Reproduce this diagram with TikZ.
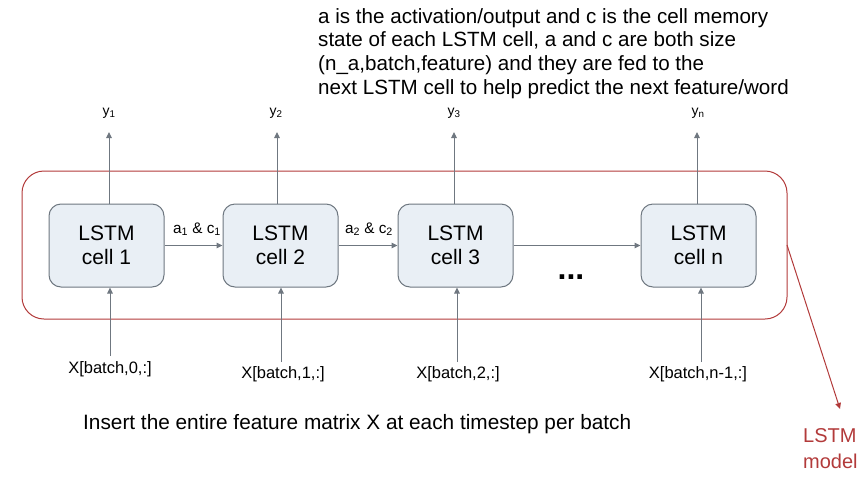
\documentclass[tikz,border=0pt]{standalone}
\usepackage{fontspec}
\setmainfont{Liberation Sans}
\usetikzlibrary{arrows.meta}
\definecolor{cellfill}{HTML}{E9EFF5}
\definecolor{celldraw}{HTML}{6E7780}
\definecolor{arrowgray}{HTML}{6F7780}
\definecolor{boxred}{HTML}{B23A3A}
\tikzset{
  cellbox/.style={draw=celldraw, fill=cellfill, line width=1pt, rounded corners=12pt,
    minimum width=115pt, minimum height=83pt, align=center, font=\fontsize{21}{24}\selectfont, inner sep=0pt},
  flow/.style={draw=arrowgray, line width=1pt, -{Triangle[length=6pt,width=5.5pt]}},
  outlbl/.style={font=\fontsize{14}{16}\selectfont, inner sep=0pt},
  inlbl/.style={font=\fontsize{16.5}{18}\selectfont, inner sep=0pt},
  edgelbl/.style={font=\fontsize{15.3}{17}\selectfont, inner sep=0pt},
}
\begin{document}
\begin{tikzpicture}[x=1pt,y=-1pt]
\useasboundingbox (0,0) rectangle (867,485);
% model box
\draw[boxred, line width=1pt, rounded corners=22pt] (22,171) rectangle (787,319);
\coordinate (boxR) at (787,245);
% cells
\node[cellbox] (c1) at (106.5,245.5) {LSTM\\cell 1};
\node[cellbox] (c2) at (280.5,245.5) {LSTM\\cell 2};
\node[cellbox] (c3) at (455.5,245.5) {LSTM\\cell 3};
\node[cellbox] (cn) at (698.5,245.5) {LSTM\\cell n};
% outputs
\node[outlbl] (y1) at (109,113) {y\textsubscript{1}};
\node[outlbl] (y2) at (276,113) {y\textsubscript{2}};
\node[outlbl] (y3) at (454,113) {y\textsubscript{3}};
\node[outlbl] (yn) at (698,113) {y\textsubscript{n}};
\coordinate (o1) at (109,132);
\coordinate (o2) at (277,132);
\coordinate (o3) at (454,132);
\coordinate (on) at (697,132);
\draw[flow] (c1.north -| o1) -- (o1);
\draw[flow] (c2.north -| o2) -- (o2);
\draw[flow] (c3.north -| o3) -- (o3);
\draw[flow] (cn.north -| on) -- (on);
% inputs
\node[inlbl] (x1) at (110,369) {X[batch,0,:]};
\node[inlbl] (x2) at (283,374) {X[batch,1,:]};
\node[inlbl] (x3) at (458,374) {X[batch,2,:]};
\node[inlbl] (xn) at (698,374) {X[batch,n-1,:]};
\coordinate (i1) at (110,356);
\coordinate (i2) at (281,362);
\coordinate (i3) at (457,362);
\coordinate (in) at (701,362);
\draw[flow] (i1) -- (i1 |- c1.south);
\draw[flow] (i2) -- (i2 |- c2.south);
\draw[flow] (i3) -- (i3 |- c3.south);
\draw[flow] (in) -- (in |- cn.south);
% recurrent
\draw[flow] (c1) -- (c2);
\draw[flow] (c2) -- (c3);
\draw[flow] (c3) -- (cn);
\node[edgelbl] (l1) at (197,229) {a\textsubscript{1} \& c\textsubscript{1}};
\node[edgelbl] (l2) at (369,229) {a\textsubscript{2} \& c\textsubscript{2}};
\node[anchor=base, font=\fontsize{32}{32}\selectfont\bfseries, inner sep=0pt] (dots) at (571,279) {...};
% top text
\node[anchor=north west, align=left, inner sep=0pt, font=\fontsize{20.6}{23.8}\selectfont] (note) at (318,8)
  {a is the activation/output and c is the cell memory\\
   state of each LSTM cell, a and c are both size\\
   (n\_a,batch,feature) and they are fed to the\\
   next LSTM cell to help predict the next feature/word};
% bottom text
\node[anchor=west, inner sep=0pt, font=\fontsize{20.8}{22}\selectfont] (ins) at (83,424)
  {Insert the entire feature matrix X at each timestep per batch};
% LSTM model
\node[anchor=west, align=left, text=boxred, inner sep=0pt, font=\fontsize{20}{26}\selectfont] (model) at (803,449) {LSTM\\model};
\coordinate (mtip) at (840,409);
\draw[boxred, line width=1pt, -{Triangle[length=6pt,width=5.5pt]}] (boxR) -- (mtip);
\end{tikzpicture}
\end{document}
